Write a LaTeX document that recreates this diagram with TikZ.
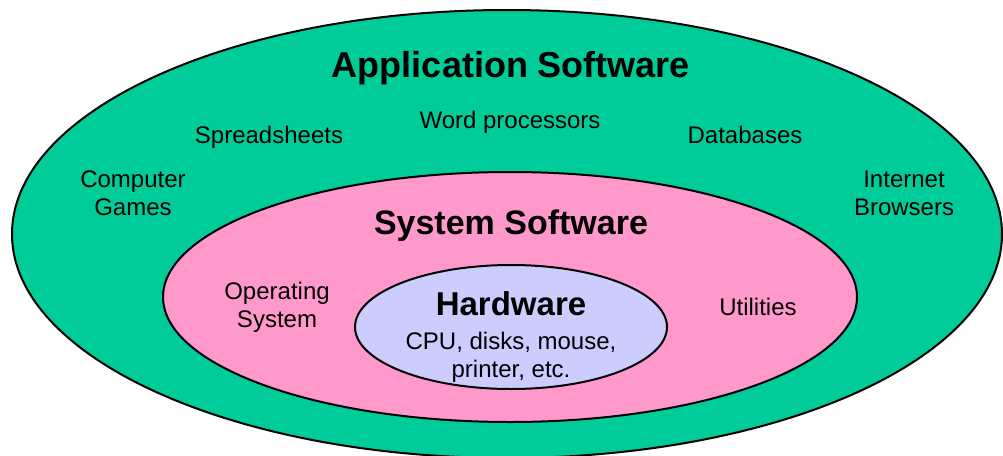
\documentclass[tikz,border=0pt]{standalone}
\usepackage{fontspec}
\setmainfont{Liberation Sans}
\usetikzlibrary{shapes.geometric}
\definecolor{appgreen}{RGB}{0, 204, 153}
\definecolor{syspink}{RGB}{255, 153, 204}
\definecolor{hwblue}{RGB}{204, 204, 255}
\tikzset{
  ring/.style={ellipse, draw=black, line width=2pt, inner sep=0pt},
  title/.style={anchor=base, font=\bfseries\fontsize{36}{40}\selectfont},
  item/.style={anchor=base, align=center, font=\fontsize{24}{28}\selectfont}
}

\begin{document}
\begin{tikzpicture}[x=1pt, y=-1pt]
        \useasboundingbox (0,0) rectangle (1003,455);
        \clip (0,0) rectangle (1003,455);
        % three layers
        \node[ring, fill=appgreen, minimum width=990pt, minimum height=448pt] (app) at (507,234) {};
        \node[ring, fill=syspink, minimum width=694pt, minimum height=250pt] (sys) at (510,297) {};
        \node[ring, fill=hwblue, minimum width=312pt, minimum height=124pt] (hw) at (511,327) {};

        % application software
        \node[title] (apptitle) at (511,77) {Application Software};
        \node[item] (sheets) at (269,143) {Spreadsheets};
        \node[item] (word) at (510,128) {Word processors};
        \node[item] (db) at (745,143) {Databases};
        \node[item] (games) at (133,215) {Computer\\Games};
        \node[item] (web) at (904,215) {Internet\\Browsers};

        % system software
        \node[title, font=\bfseries\fontsize{34}{38}\selectfont] (systitle) at (511,234) {System Software};
        \node[item] (os) at (277,327) {Operating\\System};
        \node[item] (util) at (758,315) {Utilities};

        % hardware
        \node[title, font=\bfseries\fontsize{33}{37}\selectfont] (hwtitle) at (511,315) {Hardware};
        \node[item] (devices) at (511,377) {CPU, disks, mouse,\\printer, etc.};
    \end{tikzpicture}
\end{document}
